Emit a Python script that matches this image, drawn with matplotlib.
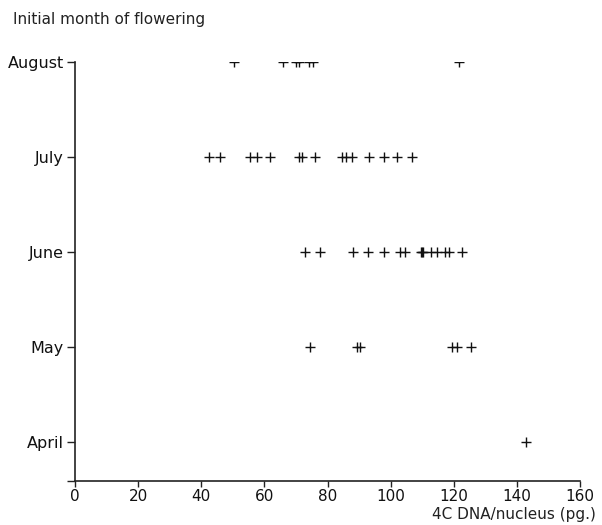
import matplotlib.pyplot as plt

plt.rcParams['font.family'] = ['DejaVu Sans']

# month levels on the y axis
months = ['April', 'May', 'June', 'July', 'August']
month_pos = [1, 2, 3, 4, 5]

# 4C DNA per nucleus (pg.) of species, grouped by initial month of flowering
august = [50.4, 66.0, 69.9, 70.9, 74.1, 75.4, 121.8]
july = [42.5, 45.8, 55.3, 57.8, 61.8, 71.1, 71.8, 75.9, 84.6, 86.0, 87.6,
        93.2, 98.0, 102.0, 106.8]
june = [73.0, 77.6, 88.0, 92.9, 97.8, 103.1, 104.4, 109.6, 110.0, 110.3,
        112.8, 114.7, 117.3, 118.4, 122.6]
may = [74.4, 89.2, 90.2, 119.4, 121.0, 125.5]
april = [143.0]

groups = [april, may, june, july, august]

fig = plt.figure(figsize=(6.02, 5.25), dpi=100)
ax = fig.add_axes([0.1246, 0.0838, 0.8389, 0.7972])

for level, vals in zip(month_pos, groups):
    ax.plot(vals, [level] * len(vals), linestyle='none', marker='+',
            markersize=6.5, markeredgewidth=1.0, color='#111111')

ax.set_xlim(0, 160)
ax.set_ylim(0.59, 5)
ax.set_xticks(range(0, 161, 20))
ax.set_yticks([0.59] + month_pos)
ax.set_yticklabels([''] + months)

for side in ['top', 'right']:
    ax.spines[side].set_visible(False)
for side in ['left', 'bottom']:
    ax.spines[side].set_linewidth(1.2)
    ax.spines[side].set_color('#222222')

ax.tick_params(axis='x', direction='out', length=4, width=1.0, pad=1.5,
               color='#222222', labelsize=11, labelcolor='#111111')
ax.tick_params(axis='y', direction='out', length=6, width=1.0, pad=2,
               color='#222222', labelsize=11.5, labelcolor='#111111')

fig.text(0.022, 0.962, 'Initial month of flowering', fontsize=11,
         ha='left', va='center', color='#222222')
fig.text(0.99, 0.006, '4C DNA/nucleus (pg.)', fontsize=11,
         ha='right', va='bottom', color='#222222')

fig.savefig('out.png', dpi=100)
